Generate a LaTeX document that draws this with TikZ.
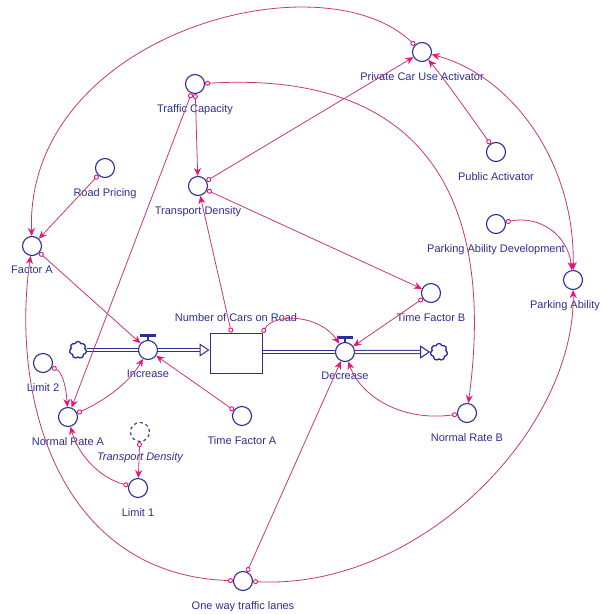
\documentclass[tikz,border=0pt]{standalone}
\usepackage{fontspec}
\setmainfont{Liberation Sans}
\usetikzlibrary{arrows.meta,shapes.symbols}
\definecolor{navy}{RGB}{45,45,150}
\definecolor{linkcol}{RGB}{200,55,115}
\definecolor{tipcol}{RGB}{232,20,120}

\begin{document}
\begin{tikzpicture}
        [x=1pt, y=-1pt, label distance=9pt,
        var/.style={circle, draw=navy, line width=1.1pt, minimum size=19pt, inner sep=0pt},
        ghost/.style={var, dashed},
        lab/.style={text=navy, font=\fontsize{11}{13}\selectfont, inner sep=1pt},
        stock/.style={draw=navy, line width=1pt, minimum width=52pt, minimum height=40pt, inner sep=0pt},
        sink/.style={cloud, cloud puffs=7, draw=navy, line width=1.3pt, minimum width=17pt, minimum height=17pt, inner sep=0pt},
        pipe/.style={draw=navy, line width=1pt, double=white, double distance=2.2pt},
        pipetip/.style={-{Triangle[open, length=10pt, width=13pt, color=navy]}},
        link/.style={linkcol, line width=0.8pt, {Circle[open, length=5pt, line width=0.9pt, color=tipcol]}-{Stealth[length=8pt, width=7pt, color=tipcol]}},
        twoway/.style={linkcol, line width=0.8pt, {Stealth[length=8pt, width=7pt, color=tipcol]}-{Stealth[length=8pt, width=7pt, color=tipcol]}}]

        \useasboundingbox (0, 0) rectangle (603, 614);

        % auxiliaries
        \node[var, label={[lab]below:Traffic Capacity}] (tc) at (195, 84) {};
        \node[var, label={[lab]below:Transport Density}] (td) at (198, 186) {};
        \node[var, label={[lab]below:Road Pricing}] (rp) at (105, 168) {};
        \node[var, label={[lab]below:Factor A}] (fa) at (32, 246) {};
        \node[var, label={[lab]below:Private Car Use Activator}] (pcua) at (422, 52) {};
        \node[var, label={[lab]below:Public Activator}] (pa) at (496, 152) {};
        \node[var, label={[lab]below:Parking Ability Development}] (pad) at (496, 224) {};
        \node[var, label={[lab, xshift=-8pt]below:Parking Ability}] (pab) at (573, 280) {};
        \node[var, label={[lab]below:Time Factor B}] (tfb) at (431, 293) {};
        \node[var, label={[lab]below:Limit 2}] (l2) at (43, 363) {};
        \node[var, label={[lab]below:Normal Rate A}] (nra) at (68, 417) {};
        \node[ghost, label={[lab, font=\fontsize{11}{13}\selectfont\itshape]below:Transport Density}] (tdg) at (140, 432) {};
        \node[var, label={[lab]below:Limit 1}] (l1) at (138, 488) {};
        \node[var, label={[lab]below:Time Factor A}] (tfa) at (242, 416) {};
        \node[var, label={[lab]below:Normal Rate B}] (nrb) at (467, 413) {};
        \node[var, label={[lab]below:One way traffic lanes}] (owl) at (243, 581) {};

        % stock, valves and clouds
        \node[stock, label={[lab, label distance=10pt]above:Number of Cars on Road}] (ncr) at (236, 353) {};
        \node[var, label={[lab]below:Increase}] (inc) at (148, 350) {};
        \node[var, label={[lab]below:Decrease}] (dec) at (345, 352) {};
        \node[sink] (cl1) at (78, 350) {};
        \node[sink] (cl2) at (439, 352) {};

        \fill[navy] ([shift={(-8,-6)}]inc.north) rectangle ([shift={(8,-3)}]inc.north);
        \draw[navy, line width=1.1pt] (inc.north) -- ++(0,-3);
        \fill[navy] ([shift={(-8,-6)}]dec.north) rectangle ([shift={(8,-3)}]dec.north);
        \draw[navy, line width=1.1pt] (dec.north) -- ++(0,-3);

        % flows
        \draw[pipe] (cl1) -- (inc);
        \draw[pipe, pipetip] (inc.east) -- (inc.east -| ncr.west);
        \draw[pipe] (ncr.east |- dec.west) -- (dec.west);
        \draw[pipe, pipetip] (dec.east) -- (cl2);

        % links
        \draw[link] (tc) -- (td);
        \draw[link] (tc) -- (nra);
        \draw[link] (tc) .. controls (430, 70) and (495, 205) .. (nrb);
        \draw[link] (td) -- (pcua);
        \draw[link] (td) -- (tfb);
        \draw[link] (ncr) -- (td);
        \draw[link] (ncr.north east) .. controls (275, 312) and (320, 315) .. (dec);
        \draw[link] (rp) -- (fa);
        \draw[link] (pcua) .. controls (320, -45) and (25, 35) .. (fa);
        \draw[link] (fa) -- (inc);
        \draw[link] (nra) .. controls (100, 403) and (128, 385) .. (inc);
        \draw[link] (l2) .. controls (62, 372) and (66, 385) .. (nra);
        \draw[link] (l1) .. controls (100, 478) and (78, 455) .. (nra);
        \draw[link] (tdg) -- (l1);
        \draw[link] (tfa) -- (inc);
        \draw[link] (tfb) -- (dec);
        \draw[link] (nrb) .. controls (400, 422) and (360, 395) .. (dec);
        \draw[link] (owl) -- (dec);
        \draw[link] (owl) .. controls (60, 575) and (10, 400) .. (fa);
        \draw[link] (owl) .. controls (420, 590) and (575, 430) .. (pab);
        \draw[link] (pad) .. controls (540, 215) and (568, 235) .. (pab);
        \draw[twoway] (pab) .. controls (575, 160) and (510, 75) .. (pcua);
        \draw[link] (pa) .. controls (470, 115) and (445, 80) .. (pcua);

\end{tikzpicture}
\end{document}
